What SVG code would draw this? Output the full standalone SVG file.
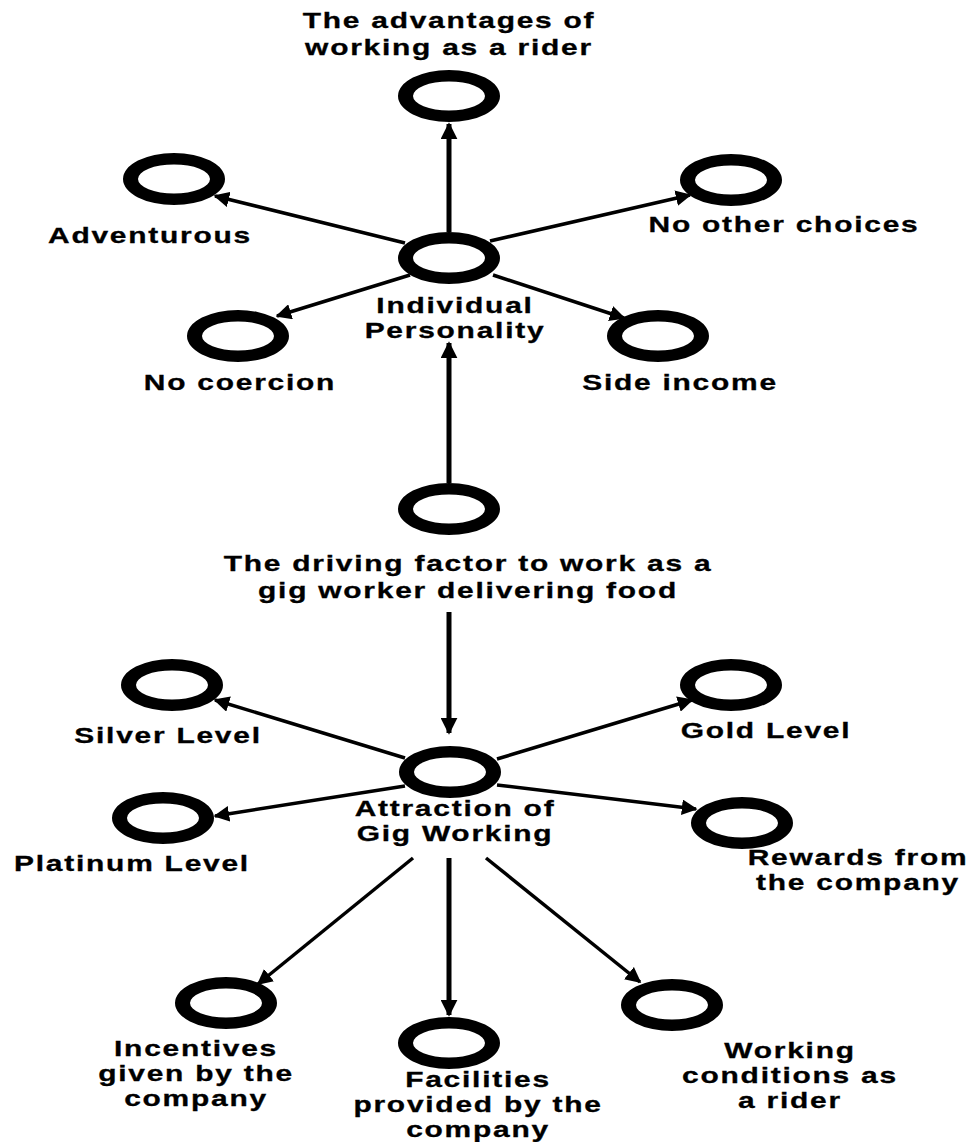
<svg xmlns="http://www.w3.org/2000/svg" width="975" height="1142" viewBox="0 0 975 1142">
<defs>
<style>
.n{fill:#000;fill-rule:evenodd}
.t{font-family:"Liberation Sans",Arial,sans-serif;font-weight:700;font-size:22px;letter-spacing:1.3px;fill:#000;stroke:#000;stroke-width:0.3;text-anchor:middle}
.c{stroke:#000;stroke-width:3.5;fill:none;marker-end:url(#ah)}
.v{stroke:#000;stroke-width:5;fill:none;marker-end:url(#ah2)}
</style>
<marker id="ah" viewBox="0 0 10 10" refX="9" refY="5" markerWidth="4.5" markerHeight="4.5" orient="auto" markerUnits="strokeWidth"><path d="M0,0 L10,5 L0,10 z" fill="#000"/></marker>
<marker id="ah2" viewBox="0 0 10 10" refX="9" refY="5" markerWidth="3.4" markerHeight="3.4" orient="auto" markerUnits="strokeWidth"><path d="M0,0 L10,5 L0,10 z" fill="#000"/></marker>
<path id="ring" d="M-51,0 a51,26 0 1,0 102,0 a51,26 0 1,0 -102,0 z M-36,0 a36,14.5 0 1,1 72,0 a36,14.5 0 1,1 -72,0 z"/>
</defs>
<rect width="975" height="1142" fill="#fff"/>
<g id="connectors">
<line class="v" x1="449" y1="232" x2="449" y2="124"/>
<line class="c" x1="405" y1="243" x2="215" y2="196"/>
<line class="c" x1="490" y1="241" x2="690" y2="195"/>
<line class="c" x1="410" y1="275" x2="277" y2="316"/>
<line class="c" x1="493" y1="275" x2="624" y2="318"/>
<line class="v" x1="449" y1="483" x2="449" y2="343"/>
<line class="v" x1="449" y1="612" x2="449" y2="733"/>
<line class="c" x1="405" y1="758" x2="215" y2="700"/>
<line class="c" x1="497" y1="759" x2="692" y2="700"/>
<line class="c" x1="405" y1="786" x2="215" y2="816"/>
<line class="c" x1="497" y1="785" x2="696" y2="809"/>
<line class="c" x1="413" y1="858" x2="258" y2="984"/>
<line class="v" x1="449" y1="858" x2="449" y2="1015"/>
<line class="c" x1="486" y1="858" x2="640" y2="982"/>
</g>
<g id="advantages"><use href="#ring" class="n" x="449" y="96"/>
<g transform="translate(449,28) scale(1.36,1)"><text class="t">The advantages of</text></g>
<g transform="translate(449,55) scale(1.36,1)"><text class="t">working as a rider</text></g></g>
<g id="adventurous"><use href="#ring" class="n" x="174" y="179"/>
<g transform="translate(150,243) scale(1.36,1)"><text class="t">Adventurous</text></g></g>
<g id="individual"><use href="#ring" class="n" x="449" y="258"/>
<g transform="translate(455,313) scale(1.36,1)"><text class="t">Individual</text></g>
<g transform="translate(455,338) scale(1.36,1)"><text class="t">Personality</text></g></g>
<g id="noother"><use href="#ring" class="n" x="731" y="180"/>
<g transform="translate(784,232) scale(1.36,1)"><text class="t">No other choices</text></g></g>
<g id="nocoercion"><use href="#ring" class="n" x="238" y="336"/>
<g transform="translate(240,390) scale(1.36,1)"><text class="t">No coercion</text></g></g>
<g id="sideincome"><use href="#ring" class="n" x="658" y="336"/>
<g transform="translate(680,390) scale(1.36,1)"><text class="t">Side income</text></g></g>
<g id="driving"><use href="#ring" class="n" x="449" y="509"/>
<g transform="translate(468,571) scale(1.36,1)"><text class="t">The driving factor to work as a</text></g>
<g transform="translate(468,598) scale(1.36,1)"><text class="t">gig worker delivering food</text></g></g>
<g id="attraction"><use href="#ring" class="n" x="450" y="772"/>
<g transform="translate(455,816) scale(1.36,1)"><text class="t">Attraction of</text></g>
<g transform="translate(455,841) scale(1.36,1)"><text class="t">Gig Working</text></g></g>
<g id="silver"><use href="#ring" class="n" x="172" y="685"/>
<g transform="translate(168,743) scale(1.36,1)"><text class="t">Silver Level</text></g></g>
<g id="gold"><use href="#ring" class="n" x="731" y="685"/>
<g transform="translate(766,738) scale(1.36,1)"><text class="t">Gold Level</text></g></g>
<g id="platinum"><use href="#ring" class="n" x="163" y="818"/>
<g transform="translate(132,871) scale(1.36,1)"><text class="t">Platinum Level</text></g></g>
<g id="rewards"><use href="#ring" class="n" x="742" y="823"/>
<g transform="translate(858,865) scale(1.36,1)"><text class="t">Rewards from</text></g>
<g transform="translate(858,890) scale(1.36,1)"><text class="t">the company</text></g></g>
<g id="incentives"><use href="#ring" class="n" x="226" y="1003"/>
<g transform="translate(196,1056) scale(1.36,1)"><text class="t">Incentives</text></g>
<g transform="translate(196,1081) scale(1.36,1)"><text class="t">given by the</text></g>
<g transform="translate(196,1106) scale(1.36,1)"><text class="t">company</text></g></g>
<g id="facilities"><use href="#ring" class="n" x="449" y="1043"/>
<g transform="translate(478,1087) scale(1.36,1)"><text class="t">Facilities</text></g>
<g transform="translate(478,1112) scale(1.36,1)"><text class="t">provided by the</text></g>
<g transform="translate(478,1137) scale(1.36,1)"><text class="t">company</text></g></g>
<g id="working"><use href="#ring" class="n" x="672" y="1005"/>
<g transform="translate(790,1058) scale(1.36,1)"><text class="t">Working</text></g>
<g transform="translate(790,1083) scale(1.36,1)"><text class="t">conditions as</text></g>
<g transform="translate(790,1108) scale(1.36,1)"><text class="t">a rider</text></g></g>
</svg>
